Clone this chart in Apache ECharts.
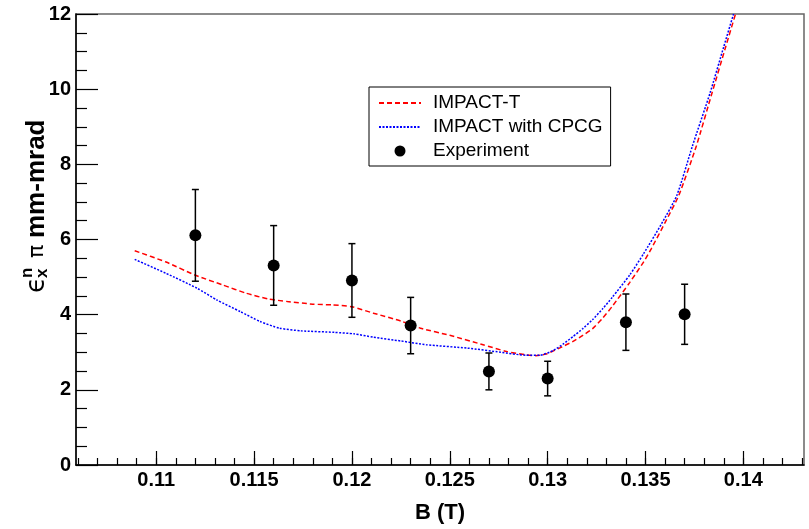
<!DOCTYPE html>
<html>
<head>
<meta charset="utf-8">
<script src="https://cdn.jsdelivr.net/npm/echarts@6/dist/echarts.min.js"></script>
<style>
html,body{margin:0;padding:0;background:#fff;}
#chart{width:809px;height:529px;}
</style>
</head>
<body>
<div id="chart"></div>
<script>
// Experimental data
const B_exp   = [0.112, 0.116, 0.120, 0.123, 0.127, 0.130, 0.134, 0.137];
const eps_exp = [6.11, 5.31, 4.91, 3.71, 2.49, 2.30, 3.80, 4.01];
const err_exp = [1.22, 1.06, 0.98, 0.75, 0.49, 0.46, 0.75, 0.80];

// IMPACT-T (red dashed)
const B_impactT   = [0.1089, 0.1105, 0.1120, 0.1134, 0.1146, 0.1157, 0.1167, 0.1180, 0.1190, 0.1200, 0.1211, 0.1225, 0.1235, 0.1250, 0.1267, 0.1279, 0.1289, 0.1294, 0.1299, 0.1306, 0.1313, 0.1318, 0.1323, 0.1328, 0.1333, 0.1342, 0.1349, 0.1353, 0.1360, 0.1367, 0.1376, 0.1384, 0.1391, 0.1396];
const eps_impactT = [5.70, 5.40, 5.05, 4.79, 4.57, 4.42, 4.35, 4.28, 4.26, 4.21, 4.04, 3.83, 3.64, 3.45, 3.20, 3.02, 2.93, 2.91, 2.95, 3.11, 3.29, 3.45, 3.63, 3.90, 4.22, 4.86, 5.40, 5.76, 6.45, 7.17, 8.49, 9.90, 11.13, 12.0];

// IMPACT with CPCG (blue dotted)
const B_cpcg   = [0.1089, 0.1105, 0.1121, 0.1131, 0.1143, 0.1153, 0.1163, 0.1174, 0.1191, 0.1201, 0.1211, 0.1225, 0.1238, 0.1259, 0.1276, 0.1289, 0.1296, 0.1303, 0.1308, 0.1313, 0.1318, 0.1323, 0.1328, 0.1333, 0.1342, 0.1349, 0.1358, 0.1366, 0.1374, 0.1383, 0.1390, 0.1395];
const eps_cpcg = [5.47, 5.10, 4.70, 4.39, 4.08, 3.82, 3.64, 3.57, 3.53, 3.49, 3.40, 3.30, 3.20, 3.11, 3.00, 2.92, 2.92, 3.05, 3.22, 3.42, 3.63, 3.87, 4.15, 4.46, 5.06, 5.62, 6.40, 7.17, 8.49, 9.90, 11.13, 12.0];

// Axis ticks / labels
const xTickValues = [0.11, 0.115, 0.12, 0.125, 0.13, 0.135, 0.14];
const xTickLabels = ['0.11', '0.115', '0.12', '0.125', '0.13', '0.135', '0.14'];
const xMinorTicks = [];
for (let i = 106; i <= 143; i++) xMinorTicks.push(i / 1000);
const yTickLabels = ['0', '2', '4', '6', '8', '10', '12'];
const seriesNames = ['IMPACT-T', 'IMPACT with CPCG', 'Experiment'];

const FONT = 'Liberation Sans, Arial, Helvetica, sans-serif';

const zip = (a, b) => a.map((v, i) => [v, b[i]]);

const chart = echarts.init(document.getElementById('chart'), null, {renderer: 'canvas'});

const option = {
  animation: false,
  backgroundColor: '#fff',
  grid: {
    left: 76, right: 5, top: 14, bottom: 61,
    show: true, borderColor: '#666', borderWidth: 1.5, backgroundColor: 'transparent'
  },
  legend: {
    left: 369, top: 87,
    orient: 'vertical',
    itemWidth: 42, itemHeight: 11, itemGap: 4,
    padding: [6, 8, 5, 9],
    borderColor: '#000', borderWidth: 1, borderRadius: 0,
    backgroundColor: '#fff',
    textStyle: {fontSize: 19, fontFamily: FONT, color: '#000', lineHeight: 20, padding: [0, 0, 0, 7]},
    data: [
      {name: seriesNames[0], itemStyle: {opacity: 0}},
      {name: seriesNames[1], itemStyle: {opacity: 0}},
      {name: seriesNames[2], itemStyle: {color: '#000', opacity: 1}}
    ]
  },
  xAxis: [
    {
      type: 'value', position: 'bottom',
      min: 0.1059, max: 0.1431,
      name: 'B (T)', nameLocation: 'middle', nameGap: 37,
      nameTextStyle: {fontSize: 22, fontWeight: 'bold', fontFamily: FONT, color: '#000'},
      axisLine: {show: true, onZero: false, lineStyle: {color: '#000', width: 1.5}},
      axisTick: {show: true, inside: true, length: 14, customValues: xTickValues, lineStyle: {color: '#000', width: 1.2}},
      axisLabel: {
        show: true, customValues: xTickValues, margin: 5,
        fontSize: 20, fontWeight: 'bold', fontFamily: FONT, color: '#000',
        formatter: v => { const i = xTickValues.findIndex(t => Math.abs(t - v) < 1e-9); return i >= 0 ? xTickLabels[i] : ''; }
      },
      splitLine: {show: false}
    },
    {
      type: 'value', position: 'bottom',
      min: 0.1059, max: 0.1431,
      axisLine: {show: false},
      axisTick: {show: true, inside: true, length: 7, customValues: xMinorTicks, lineStyle: {color: '#000', width: 1.2}},
      axisLabel: {show: false},
      splitLine: {show: false}
    }
  ],
  yAxis: {
    type: 'value', min: 0, max: 12, interval: 2,
    axisLine: {show: true, onZero: false, lineStyle: {color: '#000', width: 1.5}},
    axisTick: {show: true, inside: true, length: 22, lineStyle: {color: '#000', width: 1.2}},
    minorTick: {show: true, splitNumber: 4, length: 11, lineStyle: {color: '#000', width: 1.2}},
    axisLabel: {
      margin: 5, fontSize: 20, fontWeight: 'bold', fontFamily: FONT, color: '#000',
      formatter: v => yTickLabels[Math.round(v / 2)]
    },
    splitLine: {show: false}
  },
  graphic: [
    {
      type: 'group', x: 37, y: 293, rotation: Math.PI / 2,
      children: [
        {type: 'text', x: 0, y: 0, style: {text: 'ϵ', font: '26px DejaVu Sans, sans-serif', fill: '#000', textAlign: 'left', textVerticalAlign: 'middle'}},
        {type: 'text', x: 15, y: 5, style: {text: 'x', font: 'bold 17px ' + FONT, fill: '#000', textAlign: 'left', textVerticalAlign: 'middle'}},
        {type: 'text', x: 15, y: -10, style: {text: 'n', font: 'bold 17px ' + FONT, fill: '#000', textAlign: 'left', textVerticalAlign: 'middle'}},
        {type: 'text', x: 35, y: 0, style: {text: 'π', font: '22px DejaVu Sans, sans-serif', fill: '#000', textAlign: 'left', textVerticalAlign: 'middle'}},
        {type: 'text', x: 55, y: 0, style: {text: 'mm-mrad', font: 'bold 26px ' + FONT, fill: '#000', textAlign: 'left', textVerticalAlign: 'middle'}}
      ]
    }
  ],
  series: [
    {
      name: 'IMPACT-T', type: 'line', xAxisIndex: 0,
      data: zip(B_impactT, eps_impactT),
      symbol: 'none', smooth: 0.2, clip: true,
      lineStyle: {color: '#ff0000', width: 1.5, type: [5, 3]},
      itemStyle: {color: '#ff0000'}, z: 3
    },
    {
      name: 'IMPACT with CPCG', type: 'line', xAxisIndex: 0,
      data: zip(B_cpcg, eps_cpcg),
      symbol: 'none', smooth: 0.2, clip: true,
      lineStyle: {color: '#0000ff', width: 1.5, type: [2, 1.5]},
      itemStyle: {color: '#0000ff'}, z: 3
    },
    {
      name: 'err', type: 'custom', xAxisIndex: 0,
      data: B_exp.map((b, i) => [b, eps_exp[i], err_exp[i]]),
      encode: {x: 0, y: 1},
      renderItem: function (params, api) {
        const x = api.value(0), y = api.value(1), e = api.value(2);
        const top = api.coord([x, y + e]);
        const bot = api.coord([x, y - e]);
        const cap = 3.5;
        const st = {stroke: '#000', lineWidth: 1.5};
        return {
          type: 'group',
          children: [
            {type: 'line', shape: {x1: top[0], y1: top[1], x2: bot[0], y2: bot[1]}, style: st},
            {type: 'line', shape: {x1: top[0] - cap, y1: top[1], x2: top[0] + cap, y2: top[1]}, style: st},
            {type: 'line', shape: {x1: bot[0] - cap, y1: bot[1], x2: bot[0] + cap, y2: bot[1]}, style: st}
          ]
        };
      },
      z: 4
    },
    {
      name: 'Experiment', type: 'scatter', xAxisIndex: 0,
      data: zip(B_exp, eps_exp),
      symbol: 'circle', symbolSize: 12,
      itemStyle: {color: '#000', opacity: 1}, z: 5
    }
  ]
};
chart.setOption(option);
</script>
</body>
</html>
